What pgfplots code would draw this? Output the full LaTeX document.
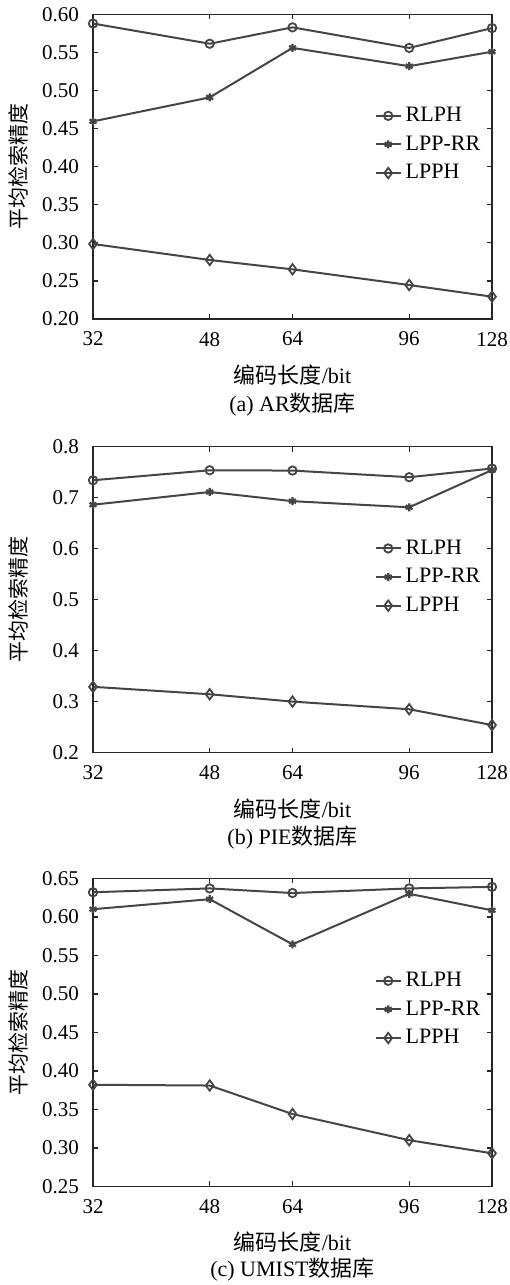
\documentclass[border=0pt]{standalone}
\usepackage{fontspec}
\setmainfont{Liberation Serif}
\newfontfamily\cjk{Noto Sans CJK SC}
\usepackage{pgfplots}
\pgfplotsset{compat=1.18}
\definecolor{lc}{HTML}{454545}
\pgfplotsset{
  myax/.style={
    scale only axis, width=199.5pt,
    xmin=5, xmax=7,
    xtick={5,5.585,6,6.585,7}, xticklabels={32,48,64,96,128},
    tick align=inside, major tick length=2.5pt,
    axis line style={line width=0.7pt, black!85},
    tick style={line width=0.6pt, black!85},
    /pgf/number format/assume math mode=true,
    tick label style={font=\fontsize{10.5}{12}\selectfont},
    xticklabel style={yshift=-3pt},
    yticklabel style={xshift=-3.5pt, /pgf/number format/fixed, /pgf/number format/fixed zerofill, /pgf/number format/precision=2},
    xlabel={\cjk 编码长度\rmfamily/bit},
    xlabel style={at={(axis description cs:0.5,0)}, anchor=center, yshift=-28pt, font=\fontsize{11}{12}\selectfont},
    ylabel={\cjk 平均检索精度},
    ylabel style={at={(axis description cs:-0.188,0.5)}, anchor=center, font=\fontsize{10.5}{12}\selectfont},
    legend style={at={(axis description cs:0.705,0.71)}, anchor=north west, draw=none, fill=none,
      font=\fontsize{11}{12}\selectfont, row sep=1.6pt, inner sep=0pt},
    legend cell align=left,
    legend image code/.code={\draw[mark repeat=2,mark phase=2] plot coordinates {(0cm,0cm) (0.22cm,0cm) (0.44cm,0cm)};},
  },
  s1/.style={lc, line width=1pt, mark=o, mark size=2.1pt, mark options={line width=0.9pt}},
  s2/.style={lc, line width=1pt, mark=asterisk, mark size=2pt, mark options={line width=1.1pt}},
  s3/.style={lc, line width=1pt, mark=diamond, mark size=2.6pt, mark options={line width=0.9pt}},
}
\begin{document}
\begin{tikzpicture}
\useasboundingbox (0,0) rectangle (254.5pt,-642.5pt);
% (a)  x = log2(code length)
\begin{axis}[myax, at={(46.5pt,-7.2pt)}, anchor=north west, height=152.3pt,
  ymin=0.2, ymax=0.6, ytick={0.20,0.25,...,0.61}]
\addplot[s1] coordinates {(5,0.588) (5.585,0.5615) (6,0.583) (6.585,0.556) (7,0.582)};
\addplot[s2] coordinates {(5,0.4595) (5.585,0.491) (6,0.556) (6.585,0.532) (7,0.551)};
\addplot[s3] coordinates {(5,0.2985) (5.585,0.2775) (6,0.2652) (6.585,0.2446) (7,0.2293)};
\legend{RLPH,LPP-RR,LPPH}
\end{axis}
\node[font=\fontsize{11}{12}\selectfont] at (146.25pt,-202.5pt) {(a) AR{\cjk 数据库}};
% (b)
\begin{axis}[myax, at={(46.5pt,-223.3pt)}, anchor=north west, height=153pt,
  ymin=0.2, ymax=0.8, ytick={0.2,0.3,...,0.81},
  yticklabel style={/pgf/number format/precision=1}]
\addplot[s1] coordinates {(5,0.734) (5.585,0.7536) (6,0.753) (6.585,0.740) (7,0.757)};
\addplot[s2] coordinates {(5,0.686) (5.585,0.711) (6,0.693) (6.585,0.681) (7,0.754)};
\addplot[s3] coordinates {(5,0.329) (5.585,0.3144) (6,0.300) (6.585,0.285) (7,0.254)};
\legend{RLPH,LPP-RR,LPPH}
\end{axis}
\node[font=\fontsize{11}{12}\selectfont] at (146.25pt,-419pt) {(b) PIE{\cjk 数据库}};
% (c)
\begin{axis}[myax, at={(46.5pt,-439.2pt)}, anchor=north west, height=154pt,
  ymin=0.25, ymax=0.65, ytick={0.25,0.30,...,0.66}]
\addplot[s1] coordinates {(5,0.632) (5.585,0.637) (6,0.631) (6.585,0.637) (7,0.639)};
\addplot[s2] coordinates {(5,0.610) (5.585,0.623) (6,0.5644) (6.585,0.630) (7,0.6085)};
\addplot[s3] coordinates {(5,0.382) (5.585,0.381) (6,0.344) (6.585,0.310) (7,0.293)};
\legend{RLPH,LPP-RR,LPPH}
\end{axis}
\node[font=\fontsize{11}{12}\selectfont] at (146.25pt,-635pt) {(c) UMIST{\cjk 数据库}};
\end{tikzpicture}
\end{document}
